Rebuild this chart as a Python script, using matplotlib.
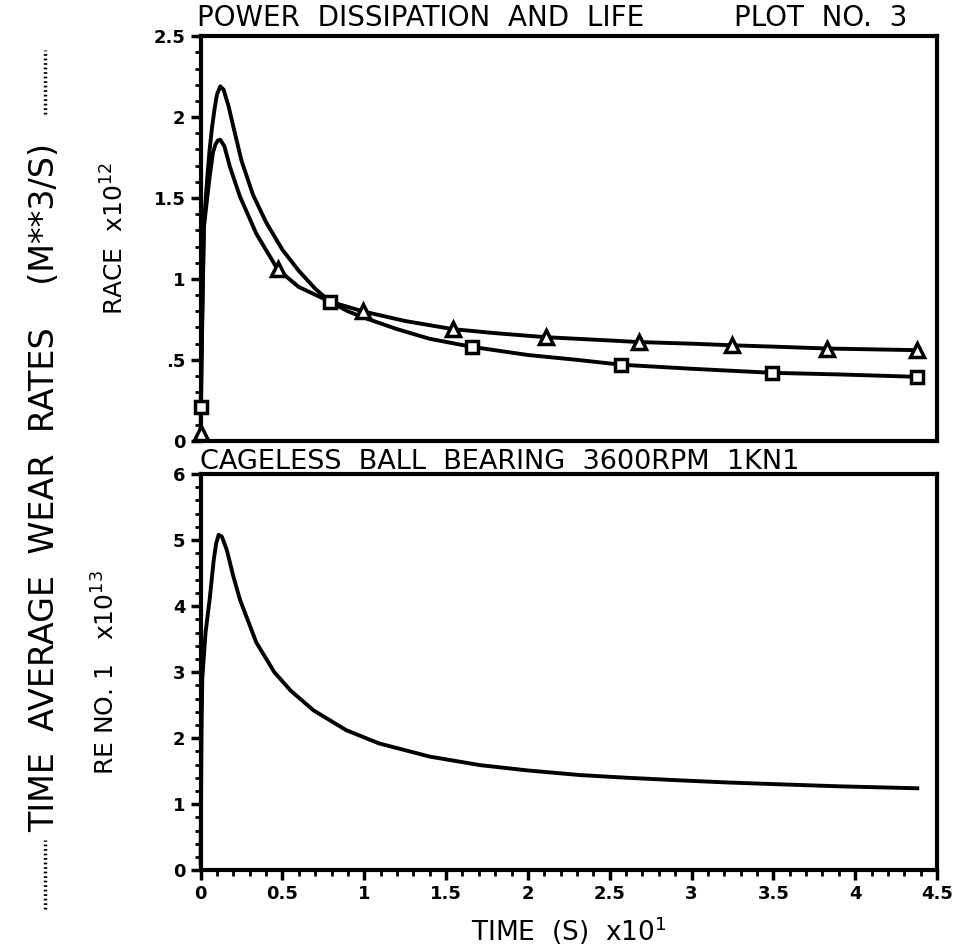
import matplotlib.pyplot as plt
import numpy as np
from matplotlib.lines import Line2D
from matplotlib.ticker import MultipleLocator

# race wear rate, triangle curve (x10^12)
x_tri = [0, 0.01, 0.02, 0.04, 0.055, 0.075, 0.09, 0.105, 0.12, 0.145, 0.18, 0.24, 0.34,
         0.47, 0.60, 0.79, 0.99, 1.25, 1.54, 1.80, 2.11, 2.40, 2.68, 3.00, 3.25, 3.55,
         3.83, 4.10, 4.38]
y_tri = [0.05, 0.75, 1.32, 1.50, 1.63, 1.78, 1.83, 1.855, 1.86, 1.82, 1.69, 1.51, 1.28,
         1.06, 0.95, 0.86, 0.80, 0.74, 0.69, 0.665, 0.64, 0.625, 0.61, 0.60, 0.59, 0.58,
         0.57, 0.565, 0.56]
tri_mx = [0, 0.47, 0.99, 1.54, 2.11, 2.68, 3.25, 3.83, 4.38]
tri_my = [0.05, 1.06, 0.80, 0.69, 0.64, 0.61, 0.59, 0.57, 0.56]

# race wear rate, square curve (x10^12)
x_sq = [0, 0.01, 0.02, 0.04, 0.055, 0.07, 0.085, 0.10, 0.12, 0.14, 0.17, 0.20, 0.25,
        0.32, 0.40, 0.50, 0.60, 0.70, 0.79, 0.90, 1.00, 1.20, 1.40, 1.66, 2.00, 2.30,
        2.57, 3.00, 3.49, 3.90, 4.38]
y_sq = [0.21, 0.80, 1.34, 1.62, 1.80, 1.94, 2.05, 2.14, 2.19, 2.17, 2.07, 1.94, 1.73,
        1.52, 1.35, 1.18, 1.05, 0.94, 0.86, 0.80, 0.76, 0.69, 0.63, 0.58, 0.53, 0.50,
        0.47, 0.445, 0.42, 0.41, 0.395]
sq_mx = [0, 0.79, 1.66, 2.57, 3.49, 4.38]
sq_my = [0.21, 0.86, 0.58, 0.47, 0.42, 0.395]

# rolling element no. 1 wear rate (x10^13)
x_re = [0, 0.005, 0.01, 0.03, 0.055, 0.08, 0.095, 0.11, 0.13, 0.16, 0.20, 0.24, 0.34,
        0.45, 0.55, 0.69, 0.89, 1.09, 1.40, 1.71, 2.00, 2.32, 2.60, 2.93, 3.20, 3.54,
        3.90, 4.38]
y_re = [0.1, 2.0, 2.9, 3.6, 4.1, 4.7, 4.95, 5.08, 5.05, 4.85, 4.45, 4.10, 3.45, 3.00,
        2.72, 2.42, 2.12, 1.92, 1.72, 1.59, 1.51, 1.44, 1.40, 1.36, 1.33, 1.30, 1.27,
        1.24]

x_ticks = [0, 0.5, 1, 1.5, 2, 2.5, 3, 3.5, 4, 4.5]
x_ticklabels = ['0', '0.5', '1', '1.5', '2', '2.5', '3', '3.5', '4', '4.5']
top_yticks = [0, 0.5, 1, 1.5, 2, 2.5]
top_yticklabels = ['0', '.5', '1', '1.5', '2', '2.5']
bot_yticks = [0, 1, 2, 3, 4, 5, 6]

plt.rcParams['font.family'] = ['DejaVu Sans']

fig = plt.figure(figsize=(9.6, 9.52), dpi=100)
ax1 = fig.add_axes([0.209, 0.537, 0.767, 0.425])
ax2 = fig.add_axes([0.209, 0.086, 0.767, 0.416])

for ax in (ax1, ax2):
    for s in ax.spines.values():
        s.set_linewidth(3)
    ax.set_xlim(0, 4.5)
    ax.tick_params(which='major', direction='out', length=7, width=2.5,
                   labelsize=13, pad=4)
    ax.tick_params(which='minor', direction='out', length=4, width=2)

lw = 2.8
mk = dict(color='black', ls='none', mfc='white', mec='black', mew=2.5, clip_on=False,
          zorder=4)
ax1.plot(x_tri, y_tri, color='black', lw=lw, clip_on=False)
ax1.plot(x_sq, y_sq, color='black', lw=lw, clip_on=False)
ax1.plot(tri_mx, tri_my, marker='^', ms=10, **mk)
ax1.plot(sq_mx, sq_my, marker='s', ms=9, **mk)
ax1.set_ylim(0, 2.5)
ax1.set_yticks(top_yticks)
ax1.set_yticklabels(top_yticklabels, fontweight='bold')
ax1.yaxis.set_minor_locator(MultipleLocator(0.1))
ax1.set_xticks([])
ax1.set_ylabel(r'RACE  x10$^{12}$', fontsize=18, labelpad=18)

ax2.plot(x_re, y_re, color='black', lw=lw, clip_on=False)
ax2.set_ylim(0, 6)
ax2.set_yticks(bot_yticks)
ax2.set_yticklabels([str(v) for v in bot_yticks], fontweight='bold')
ax2.yaxis.set_minor_locator(MultipleLocator(0.2))
ax2.set_xticks(x_ticks)
ax2.set_xticklabels(x_ticklabels, fontweight='bold')
ax2.xaxis.set_minor_locator(MultipleLocator(0.1))
ax2.set_xlabel(r'TIME  (S)  x10$^{1}$', fontsize=19, labelpad=8)
ax2.set_ylabel(r'RE NO. 1   x10$^{13}$', fontsize=18, labelpad=38)

fig.text(0.205, 0.981, 'POWER  DISSIPATION  AND  LIFE', fontsize=20, va='center',
         ha='left')
fig.text(0.945, 0.981, 'PLOT  NO.  3', fontsize=20, va='center', ha='right')
fig.text(0.208, 0.515, 'CAGELESS  BALL  BEARING  3600RPM  1KN1', fontsize=19.5,
         va='center', ha='left')

fig.text(0.047, 0.488, 'TIME  AVERAGE  WEAR  RATES    (M**3/S)', fontsize=24,
         rotation=90, va='center', ha='center')
fig.add_artist(Line2D([0.047, 0.047], [0.045, 0.118], transform=fig.transFigure,
                      color='black', lw=2.5, linestyle=(0, (0.5, 0.8))))
fig.add_artist(Line2D([0.047, 0.047], [0.88, 0.948], transform=fig.transFigure,
                      color='black', lw=2.5, linestyle=(0, (0.5, 0.8))))

fig.savefig('out.png', dpi=100)
